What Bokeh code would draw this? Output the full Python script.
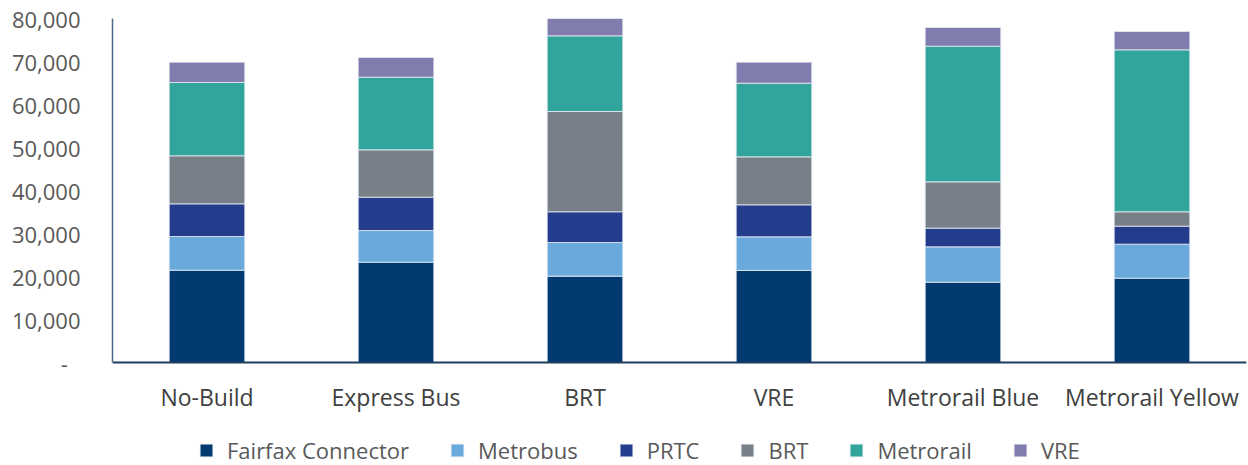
from bokeh.plotting import figure
from bokeh.models import (ColumnDataSource, CustomJSTickFormatter, Legend, LegendItem,
                          Range1d, FactorRange, FixedTicker)
from bokeh.embed import file_html
from bokeh.resources import INLINE

scenarios = ["No-Build", "Express Bus", "BRT", "VRE", "Metrorail Blue", "Metrorail Yellow"]
modes = ["Fairfax Connector", "Metrobus", "PRTC", "BRT", "Metrorail", "VRE"]
fairfax_connector = [21470, 23330, 20080, 21400, 18680, 19610]
metrobus = [7830, 7370, 7830, 7830, 8220, 7910]
prtc = [7600, 7750, 7140, 7440, 4340, 4180]
brt = [11170, 11010, 23320, 11160, 10780, 3350]
metrorail = [17050, 16890, 17600, 17130, 31540, 37670]
vre = [4720, 4580, 4340, 4880, 4350, 4260]
y_ticks = [0, 10000, 20000, 30000, 40000, 50000, 60000, 70000, 80000]

colors = ["#003a70", "#6aa9db", "#243c8c", "#778088", "#31a59c", "#807dae"]
keys = ["fc", "mb", "prtc", "brt", "metro", "vre"]

src = ColumnDataSource(dict(scenario=scenarios, fc=fairfax_connector, mb=metrobus,
                            prtc=prtc, brt=brt, metro=metrorail, vre=vre))

# frame spans 18..465 px; value 0 sits 103 px above the bottom, 80,000 at the top
Y_MAX = 80000
Y_MIN = -Y_MAX * 103 / 344

p = figure(x_range=FactorRange(*scenarios), y_range=Range1d(Y_MIN, Y_MAX),
           width=1248, height=465, output_backend="svg", toolbar_location=None,
           min_border_left=112, min_border_right=2, min_border_top=18, min_border_bottom=0)

rs = p.vbar_stack(keys, x="scenario", width=0.4, color=colors, source=src,
                  line_color="#e8ecf4", line_width=0.8)

FONT = "Open Sans"
p.xgrid.grid_line_color = None
p.ygrid.grid_line_color = None
p.outline_line_color = None

p.yaxis.ticker = FixedTicker(ticks=y_ticks)
p.yaxis.bounds = (0, Y_MAX)
p.yaxis.formatter = CustomJSTickFormatter(code="""
if (tick == 0) { return '-\\u2007'; }
return String(tick).replace(/\\B(?=(\\d{3})+(?!\\d))/g, ',');
""")
p.yaxis.axis_line_color = "#4e6a8a"
p.yaxis.axis_line_width = 1.5
p.yaxis.major_tick_line_color = None
p.yaxis.minor_tick_line_color = None
p.yaxis.major_label_standoff = 26
p.yaxis.major_label_text_font = FONT
p.yaxis.major_label_text_font_size = "22px"
p.yaxis.major_label_text_color = "#595959"

p.xaxis.fixed_location = 0
p.xaxis.axis_line_color = "#1f3d5c"
p.xaxis.axis_line_width = 2
p.xaxis.major_tick_line_color = None
p.xaxis.minor_tick_line_color = None
p.xaxis.major_label_standoff = 12
p.xaxis.major_label_text_font = FONT
p.xaxis.major_label_text_font_size = "23px"
p.xaxis.major_label_text_color = "#404040"

legend = Legend(items=[LegendItem(label=m, renderers=[r]) for m, r in zip(modes, rs)],
                orientation="horizontal", location=(86, 0),
                glyph_width=16, glyph_height=16, label_standoff=13, spacing=40,
                padding=0, margin=0, border_line_color=None, background_fill_alpha=0,
                label_text_font=FONT, label_text_font_size="22px",
                label_text_color="#595959")
p.add_layout(legend)

open("out.html", "w").write(file_html(p, INLINE))
